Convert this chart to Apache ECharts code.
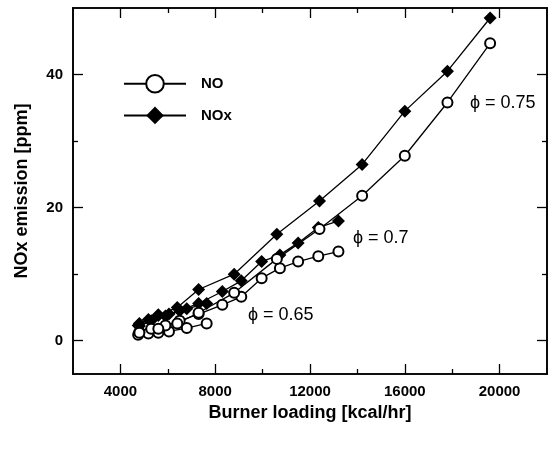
<!DOCTYPE html>
<html>
<head>
<meta charset="utf-8">
<script src="https://cdn.jsdelivr.net/npm/echarts@6/dist/echarts.min.js"></script>
<style>html,body{margin:0;padding:0;background:#fff}#c{width:552px;height:453px}</style>
</head>
<body>
<div id="c"></div>
<script>
// ---- data (x: burner loading kcal/hr, y: ppm) ----
var x065 = [4750, 5180, 5600, 6050, 6800, 7640];
var no065 = [0.9, 1.1, 1.2, 1.4, 1.9, 2.6];
var nox065 = [2.3, 3.2, 3.9, 4.0, 4.8, 5.6];

var x070 = [4800, 5300, 5900, 6500, 7300, 8300, 9100, 9960, 10730, 11500, 12350, 13200];
var no070 = [1.3, 1.8, 2.3, 3.0, 4.0, 5.4, 6.6, 9.4, 10.9, 11.9, 12.7, 13.4];
var nox070 = [2.2, 3.0, 3.7, 4.5, 5.6, 7.4, 9.0, 11.9, 12.9, 14.7, 17.0, 18.0];

var x075 = [4800, 5600, 6400, 7300, 8800, 10600, 12400, 14200, 16000, 17800, 19600];
var no075 = [1.2, 1.8, 2.6, 4.2, 7.2, 12.3, 16.8, 21.8, 27.8, 35.8, 44.7];
var nox075 = [2.6, 3.8, 5.0, 7.7, 10.0, 16.0, 21.0, 26.5, 34.5, 40.5, 48.5];

var xMajor = [4000, 8000, 12000, 16000, 20000];
var xMinor = [6000, 10000, 14000, 18000];
var yMajor = [0, 20, 40];
var yMinor = [10, 30];

function pairs(xs, ys) { return xs.map(function (x, i) { return [x, ys[i]]; }); }

var chart = echarts.init(document.getElementById('c'), null, {renderer: 'canvas'});
var tickFont = {fontFamily: 'Liberation Sans', fontWeight: 'bold', fontSize: 15, color: '#000'};
var lineBlack = {color: '#000', width: 1.6};
function plain(v) { return String(v); }

function xAx(pos, vals, len, labels, name) {
  return {
    type: 'value', position: pos, min: 2000, max: 22000,
    axisLine: {show: true, onZero: false, lineStyle: lineBlack},
    axisTick: {show: true, inside: true, length: len, customValues: vals, lineStyle: {color: '#000', width: 1.3}},
    axisLabel: labels ? Object.assign({show: true, customValues: vals, margin: 10, formatter: plain}, tickFont) : {show: false},
    splitLine: {show: false},
    name: name || '', nameLocation: 'middle', nameGap: 30,
    nameTextStyle: {fontFamily: 'Liberation Sans', fontWeight: 'bold', fontSize: 18, color: '#000'}
  };
}
function yAx(pos, vals, len, labels, name) {
  return {
    type: 'value', position: pos, min: -5, max: 50,
    axisLine: {show: true, onZero: false, lineStyle: lineBlack},
    axisTick: {show: true, inside: true, length: len, customValues: vals, lineStyle: {color: '#000', width: 1.3}},
    axisLabel: labels ? Object.assign({show: true, customValues: vals, margin: 10, formatter: plain}, tickFont) : {show: false},
    splitLine: {show: false},
    name: name || '', nameLocation: 'middle', nameGap: 42,
    nameTextStyle: {fontFamily: 'Liberation Sans', fontWeight: 'bold', fontSize: 18, color: '#000'}
  };
}

function ser(name, xs, ys, isNO) {
  return {
    type: 'line', name: name, xAxisIndex: 0, yAxisIndex: 0,
    data: pairs(xs, ys),
    symbol: isNO ? 'emptyCircle' : 'diamond',
    symbolSize: isNO ? 10 : 13,
    showAllSymbol: true,
    lineStyle: {color: '#000', width: 1.3},
    itemStyle: {color: '#000', borderColor: '#000', borderWidth: isNO ? 1.4 : 0},
    animation: false, z: isNO ? 3 : 2
  };
}

chart.setOption({
  animation: false,
  backgroundColor: '#fff',
  grid: {left: 73, right: 5, top: 8, bottom: 79, containLabel: false},
  xAxis: [
    xAx('bottom', xMajor, 10, true, 'Burner loading [kcal/hr]'),
    xAx('bottom', xMinor, 5, false),
    xAx('top', xMajor, 10, false),
    xAx('top', xMinor, 5, false)
  ],
  yAxis: [
    yAx('left', yMajor, 10, true, 'NOx emission [ppm]'),
    yAx('left', yMinor, 5, false),
    yAx('right', yMajor, 10, false),
    yAx('right', yMinor, 5, false)
  ],
  legend: {
    orient: 'vertical', left: 118, top: 69, itemWidth: 62, itemHeight: 22, itemGap: 13,
    data: ['NO', 'NOx'],
    textStyle: {fontFamily: 'Liberation Sans', fontWeight: 'bold', fontSize: 15, color: '#000', padding: [0, 0, 0, 10]},
    selectedMode: false
  },
  series: [
    ser('NO', x065, no065, true),
    ser('NOx', x065, nox065, false),
    ser('NO', x070, no070, true),
    ser('NOx', x070, nox070, false),
    ser('NO', x075, no075, true),
    ser('NOx', x075, nox075, false)
  ],
  graphic: [
    {type: 'text', left: 470, top: 94, style: {text: 'ϕ = 0.75', fontFamily: 'Liberation Sans', fontSize: 18, fill: '#000'}},
    {type: 'text', left: 353, top: 229, style: {text: 'ϕ = 0.7', fontFamily: 'Liberation Sans', fontSize: 18, fill: '#000'}},
    {type: 'text', left: 248, top: 306, style: {text: 'ϕ = 0.65', fontFamily: 'Liberation Sans', fontSize: 18, fill: '#000'}}
  ]
});
</script>
</body>
</html>
